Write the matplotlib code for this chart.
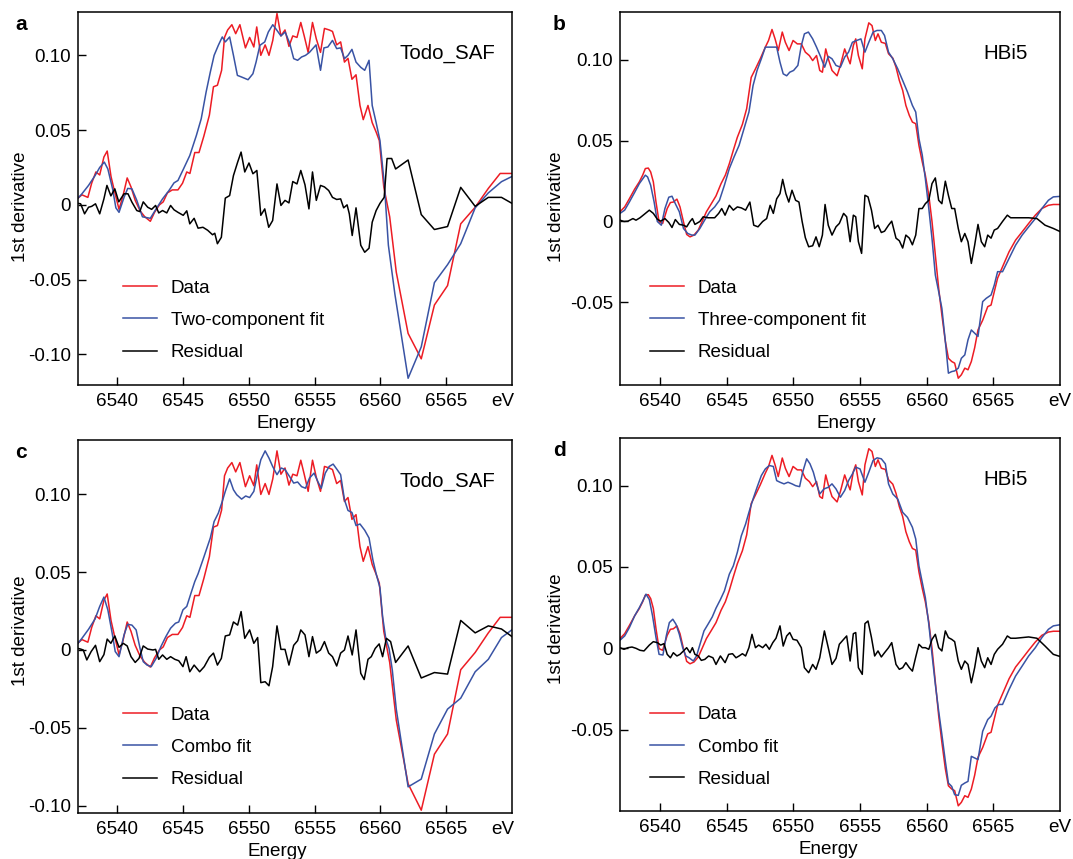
import numpy as np
import matplotlib.pyplot as plt

plt.rcParams['font.family'] = ['Liberation Sans', 'DejaVu Sans']
plt.rcParams['axes.unicode_minus'] = False

# ---- Todo_SAF measured spectrum (1st derivative) ----
todo_x = [6537.0, 6537.3, 6537.75, 6538.04, 6538.36, 6538.65, 6538.97, 6539.22, 6539.51, 6539.75,
          6540.12, 6540.42, 6540.74, 6541.03, 6541.35, 6541.72, 6542.08, 6542.5, 6542.82, 6543.19,
          6543.48, 6543.8, 6544.17, 6544.6, 6544.95, 6545.27, 6545.51, 6545.88, 6546.2, 6546.57,
          6546.99, 6547.3, 6547.6, 6547.92, 6548.14, 6548.38, 6548.7, 6548.99, 6549.31, 6549.73,
          6550.05, 6550.37, 6550.59, 6550.9, 6551.23, 6551.52, 6551.81, 6552.13, 6552.43, 6552.74,
          6553.04, 6553.33, 6553.65, 6553.94, 6554.2, 6554.5, 6554.83, 6555.12, 6555.44, 6555.74,
          6556.1, 6556.35, 6556.67, 6556.97, 6557.26, 6557.53, 6557.83, 6558.14, 6558.44, 6558.69,
          6559.05, 6559.37, 6559.67, 6559.91, 6560.25, 6560.7, 6561.2, 6562.1, 6563.1, 6564.1,
          6565.1, 6566.1, 6567.2, 6568.2, 6569.1, 6570.0]
todo_y = [0.0045, 0.0067, 0.005, 0.0145, 0.022, 0.020, 0.032, 0.036, 0.019, 0.010,
          -0.003, 0.006, 0.018, 0.012, 0.003, -0.004, -0.008, -0.011, -0.005, 0.0,
          0.002, 0.008, 0.010, 0.010, 0.0145, 0.022, 0.021, 0.035, 0.035, 0.046,
          0.060, 0.079, 0.080, 0.090, 0.112, 0.117, 0.1205, 0.1145, 0.1205, 0.105,
          0.112, 0.1056, 0.119, 0.100, 0.107, 0.100, 0.110, 0.128, 0.113, 0.117,
          0.106, 0.113, 0.112, 0.122, 0.113, 0.102, 0.122, 0.111, 0.102, 0.118,
          0.117, 0.116, 0.107, 0.109, 0.0955, 0.098, 0.084, 0.087, 0.0665, 0.057,
          0.0665, 0.055, 0.0487, 0.043, 0.012, -0.008, -0.045, -0.086, -0.103, -0.067,
          -0.054, -0.0127, -0.0016, 0.011, 0.021, 0.021]

# two-component fit (a)
fit2_x = [6537.0, 6537.3, 6537.8, 6538.3, 6538.65, 6539.0, 6539.27, 6539.63, 6539.88, 6540.12,
          6540.5, 6540.78, 6541.1, 6541.47, 6541.9, 6542.5, 6542.94, 6543.43, 6543.92, 6544.3,
          6544.6, 6545.02, 6545.5, 6546.0, 6546.37, 6546.74, 6547.06, 6547.35, 6547.67, 6547.97,
          6548.2, 6548.53, 6548.82, 6549.12, 6549.44, 6549.93, 6550.3, 6550.54, 6550.83, 6551.2,
          6551.47, 6551.81, 6552.13, 6552.43, 6552.75, 6553.1, 6553.4, 6553.7, 6554.0, 6554.3,
          6554.6, 6555.1, 6555.44, 6555.7, 6556.0, 6556.35, 6556.67, 6556.97, 6557.26, 6557.53,
          6557.83, 6558.14, 6558.5, 6558.8, 6559.13, 6559.37, 6559.67, 6559.96, 6560.3, 6560.6,
          6561.1, 6562.1, 6563.1, 6564.1, 6565.1, 6566.1, 6567.2, 6568.2, 6569.2, 6570.0]
fit2_y = [0.0045, 0.0074, 0.013, 0.0196, 0.025, 0.0286, 0.024, 0.0107, -0.002, -0.005,
          0.005, 0.011, 0.0107, 0.003, -0.008, -0.009, -0.0027, 0.004, 0.0096, 0.0147,
          0.0163, 0.024, 0.033, 0.0464, 0.0576, 0.0754, 0.0888, 0.100, 0.1067, 0.1123,
          0.109, 0.1123, 0.100, 0.0866, 0.0855, 0.0837, 0.0877, 0.0955, 0.1067, 0.109,
          0.1156, 0.1205, 0.1167, 0.113, 0.1156, 0.108, 0.0978, 0.0967, 0.0989, 0.100,
          0.102, 0.107, 0.090, 0.105, 0.1056, 0.110, 0.1045, 0.105, 0.0978, 0.100,
          0.104, 0.0955, 0.092, 0.090, 0.0967, 0.0665, 0.055, 0.043, 0.013, -0.027,
          -0.060, -0.116, -0.095, -0.052, -0.040, -0.026, -0.002, 0.008, 0.0155, 0.019]

res2_x = [6537.0, 6537.2, 6537.5, 6537.8, 6538.04, 6538.33, 6538.65, 6538.97, 6539.2, 6539.5,
          6539.8, 6540.1, 6540.5, 6540.8, 6541.1, 6541.47, 6541.7, 6541.96, 6542.3, 6542.6,
          6542.9, 6543.14, 6543.43, 6543.75, 6544.04, 6544.3, 6544.6, 6545.0, 6545.27, 6545.5,
          6545.83, 6546.13, 6546.5, 6546.86, 6547.23, 6547.4, 6547.6, 6547.9, 6548.2, 6548.53,
          6548.82, 6549.14, 6549.4, 6549.68, 6550.0, 6550.3, 6550.6, 6550.9, 6551.2, 6551.5,
          6551.8, 6552.13, 6552.43, 6552.74, 6553.04, 6553.33, 6553.65, 6553.94, 6554.26, 6554.56,
          6554.83, 6555.12, 6555.44, 6555.74, 6556.06, 6556.35, 6556.67, 6556.97, 6557.2, 6557.46,
          6557.63, 6557.85, 6558.14, 6558.5, 6558.8, 6559.13, 6559.37, 6559.67, 6559.96, 6560.28,
          6560.5, 6560.85, 6561.15, 6562.1, 6563.1, 6564.1, 6565.1, 6566.1, 6567.2, 6568.2,
          6569.2, 6570.0]
res2_y = [0.001, 0.0007, -0.006, -0.0016, -0.001, 0.0007, -0.006, 0.004, 0.013, 0.006,
          0.0107, 0.002, 0.0074, 0.0074, 0.0018, -0.0038, -0.0045, 0.002, -0.0016, -0.003,
          -0.0004, -0.0054, -0.0038, -0.0054, -0.0004, -0.0033, -0.005, -0.007, -0.004, -0.0127,
          -0.009, -0.0156, -0.015, -0.017, -0.020, -0.019, -0.026, -0.0217, 0.0045, 0.0062,
          0.0196, 0.0286, 0.0353, 0.022, 0.028, 0.0208, 0.023, -0.007, -0.0027, -0.015,
          -0.0105, 0.014, -0.0004, 0.003, 0.0013, 0.0156, 0.014, 0.023, 0.0134, -0.0027,
          0.022, 0.003, 0.013, 0.012, 0.0096, 0.005, 0.0036, 0.004, -0.002, 0.0,
          -0.006, -0.0205, -0.002, -0.027, -0.0317, -0.029, -0.0116, -0.0038, 0.001, 0.005,
          0.031, 0.031, 0.024, 0.030, -0.0065, -0.0165, -0.0145, 0.0117, -0.001, 0.005,
          0.005, 0.001]

# combo fit (c)
combo_c_x = [6537.0, 6537.3, 6537.8, 6538.3, 6538.65, 6538.97, 6539.27, 6539.6, 6539.83, 6540.12,
             6540.5, 6540.78, 6541.1, 6541.42, 6541.72, 6541.96, 6542.25, 6542.57, 6542.94, 6543.3,
             6543.68, 6544.04, 6544.41, 6544.66, 6544.98, 6545.27, 6545.59, 6545.88, 6546.13, 6546.5,
             6546.74, 6547.06, 6547.35, 6547.67, 6547.97, 6548.2, 6548.53, 6548.82, 6549.07, 6549.44,
             6549.75, 6550.05, 6550.37, 6550.66, 6550.9, 6551.23, 6551.52, 6551.8, 6552.13, 6552.45,
             6552.74, 6553.08, 6553.4, 6553.7, 6554.0, 6554.3, 6554.6, 6554.95, 6555.25, 6555.5,
             6555.8, 6556.1, 6556.4, 6556.7, 6556.97, 6557.26, 6557.53, 6557.83, 6558.14, 6558.44,
             6558.8, 6559.13, 6559.42, 6559.67, 6559.96, 6560.16, 6560.4, 6560.65, 6560.9, 6561.2,
             6562.1, 6563.1, 6564.1, 6565.1, 6566.1, 6567.2, 6568.2, 6569.2, 6570.0]
combo_c_y = [0.0043, 0.0075, 0.0133, 0.020, 0.028, 0.034, 0.0258, 0.0107, -0.001, -0.0043,
             0.0097, 0.0165, 0.016, 0.0129, 0.001, -0.0075, -0.0097, -0.0107, -0.0054, 0.0021,
             0.0086, 0.014, 0.0172, 0.018, 0.0258, 0.028, 0.0365, 0.044, 0.049, 0.058,
             0.064, 0.072, 0.0826, 0.088, 0.0955, 0.102, 0.110, 0.103, 0.0998, 0.097,
             0.099, 0.098, 0.102, 0.1137, 0.1223, 0.128, 0.1234, 0.118, 0.1127, 0.117,
             0.116, 0.1116, 0.1073, 0.108, 0.105, 0.104, 0.1105, 0.1137, 0.108, 0.104,
             0.1137, 0.118, 0.1195, 0.116, 0.1127, 0.0966, 0.0897, 0.0884, 0.080, 0.081,
             0.077, 0.072, 0.058, 0.049, 0.040, 0.0215, 0.0075, 0.001, -0.013, -0.038,
             -0.088, -0.083, -0.054, -0.038, -0.031, -0.014, -0.006, 0.008, 0.013]

res_c_x = [6537.0, 6537.2, 6537.4, 6537.67, 6538.0, 6538.33, 6538.65, 6538.97, 6539.22, 6539.5,
           6539.8, 6540.12, 6540.44, 6540.74, 6541.03, 6541.35, 6541.64, 6541.96, 6542.3, 6542.7,
           6542.9, 6543.14, 6543.43, 6543.75, 6544.04, 6544.36, 6544.66, 6544.98, 6545.22, 6545.5,
           6545.83, 6546.25, 6546.6, 6546.99, 6547.3, 6547.6, 6547.9, 6548.2, 6548.53, 6548.82,
           6549.14, 6549.4, 6549.68, 6550.05, 6550.37, 6550.66, 6550.9, 6551.23, 6551.52, 6551.8,
           6552.13, 6552.43, 6552.74, 6553.04, 6553.4, 6553.7, 6553.94, 6554.26, 6554.56, 6554.83,
           6555.12, 6555.44, 6555.74, 6556.06, 6556.35, 6556.67, 6556.97, 6557.26, 6557.53, 6557.85,
           6558.14, 6558.5, 6558.76, 6559.05, 6559.3, 6559.6, 6559.9, 6560.16, 6560.45, 6560.77,
           6561.15, 6562.1, 6563.1, 6564.1, 6565.1, 6566.1, 6567.2, 6568.2, 6569.2, 6570.0]
res_c_y = [0.001, 0.0006, 0.0, -0.0064, -0.001, 0.003, -0.0075, -0.003, 0.007, 0.0043,
           0.009, 0.0017, 0.0043, 0.0026, -0.0043, -0.008, -0.0054, 0.0026, 0.0006, 0.0,
           0.0004, -0.006, -0.0032, -0.006, -0.0043, -0.006, -0.0069, -0.0107, -0.0043, -0.014,
           -0.0097, -0.014, -0.0107, -0.0047, -0.002, -0.0097, -0.0054, 0.009, 0.0097, 0.018,
           0.016, 0.0247, 0.0075, 0.0129, 0.0043, 0.008, -0.021, -0.0204, -0.023, -0.0107,
           0.0155, 0.0004, 0.0004, -0.0097, 0.003, 0.006, 0.0129, 0.0097, -0.0043, 0.0086,
           -0.002, 0.0, 0.0054, -0.002, -0.0043, -0.0103, -0.002, 0.0, 0.009, -0.0032,
           0.0129, -0.015, -0.019, -0.006, -0.0043, 0.001, 0.0039, -0.0043, 0.0075, 0.0054,
           -0.008, 0.0026, -0.018, -0.0145, -0.0155, 0.019, 0.011, 0.0155, 0.0135, 0.0086]

# ---- HBi5 measured spectrum ----
hbi_x = [6537.0, 6537.35, 6537.7, 6538.1, 6538.45, 6538.7, 6538.9, 6539.12, 6539.3, 6539.5,
         6539.7, 6539.93, 6540.2, 6540.54, 6540.78, 6541.0, 6541.27, 6541.5, 6541.76, 6542.0,
         6542.25, 6542.55, 6542.87, 6543.16, 6543.48, 6543.85, 6544.2, 6544.58, 6544.9, 6545.2,
         6545.5, 6545.8, 6546.18, 6546.5, 6546.84, 6547.16, 6547.52, 6547.9, 6548.14, 6548.4,
         6548.63, 6548.87, 6549.17, 6549.4, 6549.68, 6549.98, 6550.3, 6550.6, 6550.9, 6551.2,
         6551.45, 6551.74, 6551.98, 6552.18, 6552.43, 6552.62, 6552.9, 6553.28, 6553.53, 6553.85,
         6554.07, 6554.26, 6554.5, 6554.68, 6554.88, 6555.17, 6555.37, 6555.66, 6555.9, 6556.15,
         6556.35, 6556.6, 6556.9, 6557.14, 6557.46, 6557.7, 6557.95, 6558.2, 6558.44, 6558.7,
         6558.93, 6559.18, 6559.42, 6559.67, 6559.9, 6560.16, 6560.4, 6560.65, 6560.9, 6561.14,
         6561.4, 6561.63, 6561.88, 6562.1, 6562.37, 6562.6, 6562.86, 6563.1, 6563.35, 6563.6,
         6563.85, 6564.2, 6564.58, 6564.83, 6565.07, 6565.32, 6565.69, 6566.18, 6566.67, 6567.16,
         6567.65, 6568.15, 6568.64, 6569.13, 6569.5, 6570.0]
hbi_y = [0.006, 0.009, 0.014, 0.020, 0.0245, 0.0286, 0.0327, 0.033, 0.0306, 0.0245,
         0.012, -0.0002, -0.0012, 0.008, 0.0117, 0.012, 0.0138, 0.009, -0.0002, -0.008,
         -0.0095, -0.0084, -0.0053, 0.0, 0.006, 0.011, 0.0158, 0.0234, 0.0286, 0.0357,
         0.044, 0.052, 0.060, 0.0697, 0.089, 0.0943, 0.1005, 0.1077, 0.1118, 0.1186,
         0.1128, 0.1056, 0.117, 0.1107, 0.1056, 0.1118, 0.1097, 0.1097, 0.1046, 0.1025,
         0.0994, 0.1025, 0.0933, 0.0922, 0.1066, 0.1005, 0.0933, 0.090, 0.0964, 0.1066,
         0.1015, 0.0974, 0.1087, 0.1128, 0.1025, 0.0943, 0.1128, 0.1227, 0.121, 0.1118,
         0.1159, 0.1107, 0.110, 0.1036, 0.1009, 0.0953, 0.0871, 0.081, 0.0717, 0.0655,
         0.0614, 0.0604, 0.047, 0.0368, 0.0286, 0.0162, 0.0, -0.0207, -0.0413, -0.0577,
         -0.074, -0.0845, -0.0865, -0.0875, -0.0968, -0.0947, -0.0906, -0.0916, -0.0865, -0.078,
         -0.067, -0.061, -0.0526, -0.0516, -0.0434, -0.035, -0.028, -0.0187, -0.0115, -0.0064,
         -0.0012, 0.0039, 0.008, 0.010, 0.0105, 0.0105]

# three-component fit (b)
fit3_x = [6537.0, 6537.35, 6537.7, 6538.1, 6538.45, 6538.9, 6539.07, 6539.3, 6539.56, 6539.8,
          6540.1, 6540.37, 6540.66, 6540.9, 6541.15, 6541.45, 6541.76, 6542.08, 6542.38, 6542.62,
          6542.99, 6543.36, 6543.73, 6544.1, 6544.46, 6544.83, 6545.2, 6545.56, 6545.93, 6546.3,
          6546.67, 6546.98, 6547.28, 6547.6, 6547.9, 6548.2, 6548.5, 6548.75, 6549.0, 6549.24,
          6549.5, 6549.73, 6550.02, 6550.34, 6550.6, 6550.83, 6551.13, 6551.45, 6551.74, 6552.06,
          6552.35, 6552.62, 6552.9, 6553.2, 6553.53, 6553.85, 6554.14, 6554.43, 6554.75, 6555.07,
          6555.37, 6555.66, 6555.98, 6556.28, 6556.6, 6556.84, 6557.14, 6557.46, 6557.83, 6558.2,
          6558.56, 6558.93, 6559.18, 6559.42, 6559.67, 6559.9, 6560.16, 6560.4, 6560.65, 6560.9,
          6561.14, 6561.4, 6561.63, 6561.88, 6562.1, 6562.37, 6562.6, 6562.86, 6563.1, 6563.35,
          6563.6, 6563.85, 6564.2, 6564.46, 6564.83, 6565.07, 6565.32, 6565.69, 6566.18, 6566.67,
          6567.16, 6567.65, 6568.15, 6568.64, 6569.13, 6569.5, 6570.0]
fit3_y = [0.005, 0.007, 0.012, 0.018, 0.0234, 0.0286, 0.0275, 0.0224, 0.012, 0.0,
          -0.0023, 0.008, 0.015, 0.0156, 0.011, 0.006, -0.0043, -0.0074, -0.0084, -0.0084,
          -0.0043, 0.001, 0.006, 0.009, 0.0131, 0.0224, 0.0327, 0.040, 0.047, 0.0573,
          0.0676, 0.084, 0.0933, 0.1005, 0.1077, 0.1077, 0.1077, 0.1077, 0.0984, 0.0912,
          0.090, 0.0922, 0.0933, 0.0964, 0.1087, 0.1159, 0.117, 0.1128, 0.1077, 0.1015,
          0.0953, 0.102, 0.1005, 0.0964, 0.0953, 0.1015, 0.1046, 0.1107, 0.1118, 0.1128,
          0.1046, 0.1107, 0.117, 0.118, 0.118, 0.1149, 0.1046, 0.1005, 0.0943, 0.0871,
          0.080, 0.0717, 0.0676, 0.0512, 0.041, 0.0265, 0.008, -0.0105, -0.0331, -0.0433,
          -0.0536, -0.074, -0.0937, -0.0927, -0.0923, -0.0906, -0.0845, -0.0824, -0.0731, -0.067,
          -0.069, -0.071, -0.0495, -0.0475, -0.0454, -0.0393, -0.031, -0.031, -0.0228, -0.0146,
          -0.0084, -0.0033, 0.0018, 0.008, 0.0131, 0.0152, 0.0155]

res3_x = [6537.0, 6537.3, 6537.6, 6537.97, 6538.2, 6538.5, 6538.8, 6539.2, 6539.5, 6539.8,
          6540.05, 6540.37, 6540.66, 6540.9, 6541.15, 6541.45, 6541.76, 6542.0, 6542.25, 6542.43,
          6542.62, 6542.99, 6543.24, 6543.6, 6544.1, 6544.4, 6544.63, 6544.88, 6545.2, 6545.5,
          6545.8, 6546.1, 6546.42, 6546.74, 6547.03, 6547.35, 6547.7, 6548.0, 6548.26, 6548.5,
          6548.75, 6549.0, 6549.2, 6549.44, 6549.66, 6549.9, 6550.17, 6550.42, 6550.66, 6550.9,
          6551.15, 6551.45, 6551.7, 6551.94, 6552.18, 6552.38, 6552.62, 6552.9, 6553.2, 6553.45,
          6553.77, 6554.0, 6554.26, 6554.5, 6554.68, 6554.88, 6555.12, 6555.37, 6555.6, 6555.86,
          6556.1, 6556.35, 6556.6, 6556.84, 6557.14, 6557.38, 6557.7, 6557.95, 6558.2, 6558.44,
          6558.7, 6558.93, 6559.18, 6559.42, 6559.67, 6559.9, 6560.16, 6560.4, 6560.65, 6560.9,
          6561.14, 6561.4, 6561.63, 6561.88, 6562.1, 6562.37, 6562.6, 6562.86, 6563.1, 6563.35,
          6563.6, 6563.85, 6564.1, 6564.35, 6564.58, 6564.83, 6565.07, 6565.32, 6565.69, 6566.05,
          6566.3, 6566.67, 6567.65, 6568.27, 6568.88, 6569.5, 6570.0]
res3_y = [0.0008, 0.0, 0.0002, 0.0018, 0.0008, 0.0023, 0.0043, 0.007, 0.005, 0.0014,
          0.0002, 0.0018, -0.0006, -0.0037, 0.0012, -0.0018, -0.0023, -0.0033, 0.0, 0.0018,
          -0.0018, 0.0, 0.0029, 0.0023, 0.0023, 0.005, 0.008, 0.0039, 0.010, 0.007,
          0.009, 0.0084, 0.007, 0.012, -0.0023, -0.0033, 0.0, 0.0018, 0.010, 0.005,
          0.014, 0.0172, 0.026, 0.0172, 0.012, 0.0193, 0.0131, 0.012, 0.0, -0.010,
          -0.0156, -0.015, -0.0095, -0.0156, -0.0084, 0.0105, -0.0023, -0.0084, -0.0033, -0.0012,
          0.005, 0.0029, -0.0125, 0.0039, 0.0029, -0.0125, -0.0197, 0.0162, 0.0152, 0.007,
          -0.0043, -0.0023, -0.0068, -0.006, -0.0023, 0.0002, -0.0103, -0.0119, -0.0164, -0.0084,
          -0.0103, -0.0144, -0.0084, 0.008, 0.008, 0.011, 0.0131, 0.0234, 0.0269, 0.0131,
          0.011, 0.0249, 0.0162, 0.008, 0.008, -0.0043, -0.0125, -0.0074, -0.0125, -0.0259,
          -0.0146, -0.0018, -0.0125, -0.0156, -0.0084, -0.0103, -0.0053, -0.0043, 0.0, 0.0039,
          0.0023, 0.0023, 0.0023, 0.0018, -0.0023, -0.0043, -0.0062]

# combo fit (d)
combo_d_x = [6537.0, 6537.35, 6537.7, 6538.1, 6538.45, 6538.7, 6538.95, 6539.2, 6539.44, 6539.7,
             6539.93, 6540.22, 6540.47, 6540.7, 6540.96, 6541.2, 6541.45, 6541.7, 6541.94, 6542.18,
             6542.5, 6542.74, 6543.0, 6543.3, 6543.6, 6543.92, 6544.2, 6544.53, 6544.83, 6545.2,
             6545.5, 6545.8, 6546.1, 6546.42, 6546.67, 6546.98, 6547.28, 6547.6, 6547.9, 6548.2,
             6548.5, 6548.75, 6549.0, 6549.3, 6549.6, 6549.9, 6550.17, 6550.47, 6550.7, 6551.0,
             6551.25, 6551.5, 6551.74, 6551.98, 6552.3, 6552.62, 6552.9, 6553.2, 6553.53, 6553.85,
             6554.14, 6554.43, 6554.68, 6555.0, 6555.37, 6555.66, 6555.98, 6556.28, 6556.6, 6556.9,
             6557.14, 6557.46, 6557.83, 6558.2, 6558.56, 6558.93, 6559.18, 6559.42, 6559.67, 6559.9,
             6560.16, 6560.4, 6560.65, 6560.9, 6561.14, 6561.4, 6561.63, 6561.88, 6562.1, 6562.37,
             6562.6, 6562.86, 6563.1, 6563.35, 6563.6, 6563.85, 6564.2, 6564.58, 6564.83, 6565.12,
             6565.4, 6565.69, 6566.18, 6566.67, 6567.16, 6567.65, 6568.15, 6568.64, 6569.13, 6569.5,
             6570.0]
combo_d_y = [0.005, 0.0076, 0.0127, 0.020, 0.025, 0.029, 0.0333, 0.030, 0.020, 0.0066,
             -0.0037, -0.0041, 0.0076, 0.0158, 0.0179, 0.0148, 0.0086, 0.0004, -0.0047, -0.0058,
             -0.0078, -0.0047, 0.0025, 0.0107, 0.0148, 0.0193, 0.0247, 0.030, 0.0353, 0.0456,
             0.0507, 0.059, 0.0692, 0.0764, 0.0836, 0.0918, 0.099, 0.1062, 0.1103, 0.1124,
             0.1118, 0.1031, 0.1021, 0.1011, 0.1021, 0.1011, 0.100, 0.0994, 0.1083, 0.1165,
             0.1134, 0.1083, 0.1011, 0.0949, 0.098, 0.099, 0.1011, 0.098, 0.0929, 0.097,
             0.1031, 0.1072, 0.1114, 0.1103, 0.1021, 0.1083, 0.1155, 0.1171, 0.1165, 0.1134,
             0.1011, 0.0949, 0.0918, 0.0836, 0.0805, 0.0744, 0.0672, 0.0507, 0.0405, 0.0312,
             0.0148, -0.0037, -0.0222, -0.0386, -0.053, -0.0694, -0.0828, -0.0849, -0.090, -0.0904,
             -0.0842, -0.0828, -0.0818, -0.0664, -0.0674, -0.0684, -0.051, -0.0438, -0.0417, -0.0366,
             -0.0345, -0.0345, -0.0253, -0.017, -0.0109, -0.0047, 0.0004, 0.0066, 0.0117, 0.0138,
             0.0145]

res_d_x = [6537.0, 6537.3, 6537.6, 6537.9, 6538.2, 6538.5, 6538.8, 6539.2, 6539.5, 6539.8,
           6540.05, 6540.3, 6540.54, 6540.78, 6541.0, 6541.27, 6541.5, 6541.76, 6542.0, 6542.25,
           6542.43, 6542.62, 6542.87, 6543.1, 6543.36, 6543.65, 6543.97, 6544.2, 6544.53, 6544.88,
           6545.15, 6545.44, 6545.7, 6545.93, 6546.18, 6546.42, 6546.67, 6546.9, 6547.16, 6547.4,
           6547.7, 6547.94, 6548.2, 6548.46, 6548.7, 6549.0, 6549.24, 6549.5, 6549.73, 6549.98,
           6550.27, 6550.6, 6550.83, 6551.15, 6551.45, 6551.7, 6551.98, 6552.33, 6552.62, 6552.9,
           6553.2, 6553.45, 6553.77, 6554.0, 6554.26, 6554.5, 6554.68, 6554.88, 6555.17, 6555.37,
           6555.6, 6555.86, 6556.1, 6556.35, 6556.6, 6556.84, 6557.14, 6557.38, 6557.7, 6557.95,
           6558.2, 6558.44, 6558.7, 6558.93, 6559.18, 6559.42, 6559.67, 6559.9, 6560.16, 6560.4,
           6560.65, 6560.9, 6561.14, 6561.4, 6561.63, 6561.88, 6562.1, 6562.37, 6562.6, 6562.86,
           6563.1, 6563.35, 6563.6, 6563.85, 6564.1, 6564.35, 6564.58, 6564.83, 6565.07, 6565.32,
           6565.69, 6566.05, 6566.3, 6566.67, 6567.65, 6568.27, 6568.88, 6569.5, 6570.0]
res_d_y = [0.0004, -0.0006, 0.0004, 0.0008, 0.0, -0.0012, -0.0016, 0.002, 0.0041, 0.0035,
           0.002, 0.0029, -0.0037, -0.0058, -0.0027, -0.0047, -0.0037, -0.0016, 0.0004, -0.0027,
           0.0004, -0.0037, -0.0047, -0.0074, -0.0068, -0.0047, -0.0058, -0.0099, -0.0047, -0.0088,
           -0.0037, -0.0033, -0.0058, -0.0047, -0.0033, -0.0047, 0.0004, 0.0086, 0.0004, 0.002,
           0.0004, 0.0025, -0.0006, 0.0035, 0.0062, 0.0138, 0.0014, 0.0076, 0.0097, 0.0055,
           0.005, 0.0004, -0.0119, -0.015, -0.0099, -0.0129, -0.0058, 0.0107, 0.0004, -0.0099,
           -0.0062, 0.0025, 0.0055, 0.0076, -0.0078, 0.009, 0.0097, -0.0119, -0.016, 0.0152,
           0.0168, 0.0066, -0.0047, -0.0016, -0.0053, -0.0027, 0.0004, 0.0035, -0.0099, -0.0129,
           -0.0119, -0.0088, -0.0119, -0.014, -0.0053, 0.0025, 0.0004, 0.0004, -0.0006, 0.0055,
           0.0086, 0.0004, -0.0016, 0.0107, 0.0066, 0.0055, 0.0041, -0.0078, -0.0129, -0.0078,
           -0.0099, -0.0212, -0.0119, 0.0004, -0.0078, -0.0119, -0.0058, -0.0099, -0.0037, -0.0006,
           0.0025, 0.0076, 0.0062, 0.0062, 0.007, 0.0062, 0.0014, -0.0037, -0.005]

energy_ticks = [6540, 6545, 6550, 6555, 6560, 6565]
red = '#ed1c24'
blue = '#3953a4'
fs = 13.6

fig = plt.figure(figsize=(10.73, 8.59), dpi=100)
W, H = 1073, 859


def panel(box, letter, letter_x, sample, data, fit, res, fit_label, ylim, yticks,
          lab_x, lab_y, ylab_x, leg_xy, ev_x):
    l, t, r, b = box
    ax = fig.add_axes([l / W, 1 - b / H, (r - l) / W, (b - t) / H])
    ax.plot(data[0], data[1], color=red, lw=1.1, label='Data')
    ax.plot(fit[0], fit[1], color=blue, lw=1.1, label=fit_label)
    ax.plot(res[0], res[1], color='black', lw=1.1, label='Residual')
    ax.set_xlim(6537, 6570)
    ax.set_ylim(*ylim)
    ax.set_xticks(energy_ticks)
    ax.set_yticks(yticks)
    ax.set_yticklabels(['0' if v == 0 else '%.2f' % v for v in yticks])
    ax.set_xticks([ev_x], labels=['eV'], minor=True)
    ax.tick_params(which='major', direction='in', length=6, width=1, labelsize=fs,
                   top=False, right=False)
    ax.tick_params(axis='x', which='major', pad=6)
    ax.tick_params(axis='y', which='major', pad=5)
    ax.tick_params(axis='x', which='minor', length=0, labelsize=fs, pad=6)
    for s in ax.spines.values():
        s.set_linewidth(1.1)
    ax.set_xlabel('Energy', fontsize=fs)
    ax.set_ylabel('1st derivative', fontsize=fs)
    ax.xaxis.set_label_coords(lab_x, -0.08)
    ax.yaxis.set_label_coords(ylab_x, lab_y)
    ax.text(0.961 if sample == 'Todo_SAF' else 0.927, 0.89, sample, transform=ax.transAxes,
            ha='right', va='center', fontsize=14.8)
    ax.legend(loc='upper left', bbox_to_anchor=leg_xy, frameon=False, fontsize=fs,
              handlelength=1.8, handletextpad=0.72, labelspacing=0.8,
              borderpad=0, borderaxespad=0)
    fig.text(letter_x / W, 1 - (t + 13) / H, letter, fontsize=15, fontweight='bold',
             ha='left', va='center')
    return ax


panel((78, 12, 512, 385), 'a', 15, 'Todo_SAF', (todo_x, todo_y), (fit2_x, fit2_y),
      (res2_x, res2_y), 'Two-component fit', (-0.1205, 0.129), [-0.10, -0.05, 0, 0.05, 0.10],
      0.479, 0.477, -0.112, (0.104, 0.283), 6569.3)
panel((620, 12, 1060, 385), 'b', 553, 'HBi5', (hbi_x, hbi_y), (fit3_x, fit3_y),
      (res3_x, res3_y), 'Three-component fit', (-0.101, 0.1294), [-0.05, 0, 0.05, 0.10],
      0.514, 0.477, -0.124, (0.068, 0.283), 6570)
panel((78, 440, 512, 813), 'c', 15, 'Todo_SAF', (todo_x, todo_y), (combo_c_x, combo_c_y),
      (res_c_x, res_c_y), 'Combo fit', (-0.1048, 0.135), [-0.10, -0.05, 0, 0.05, 0.10],
      0.459, 0.49, -0.112, (0.104, 0.286), 6569.3)
panel((620, 438, 1060, 811), 'd', 553, 'HBi5', (hbi_x, hbi_y), (combo_d_x, combo_d_y),
      (res_d_x, res_d_y), 'Combo fit', (-0.100, 0.1293), [-0.05, 0, 0.05, 0.10],
      0.473, 0.488, -0.124, (0.068, 0.281), 6570)

fig.savefig('out.png', dpi=100)
